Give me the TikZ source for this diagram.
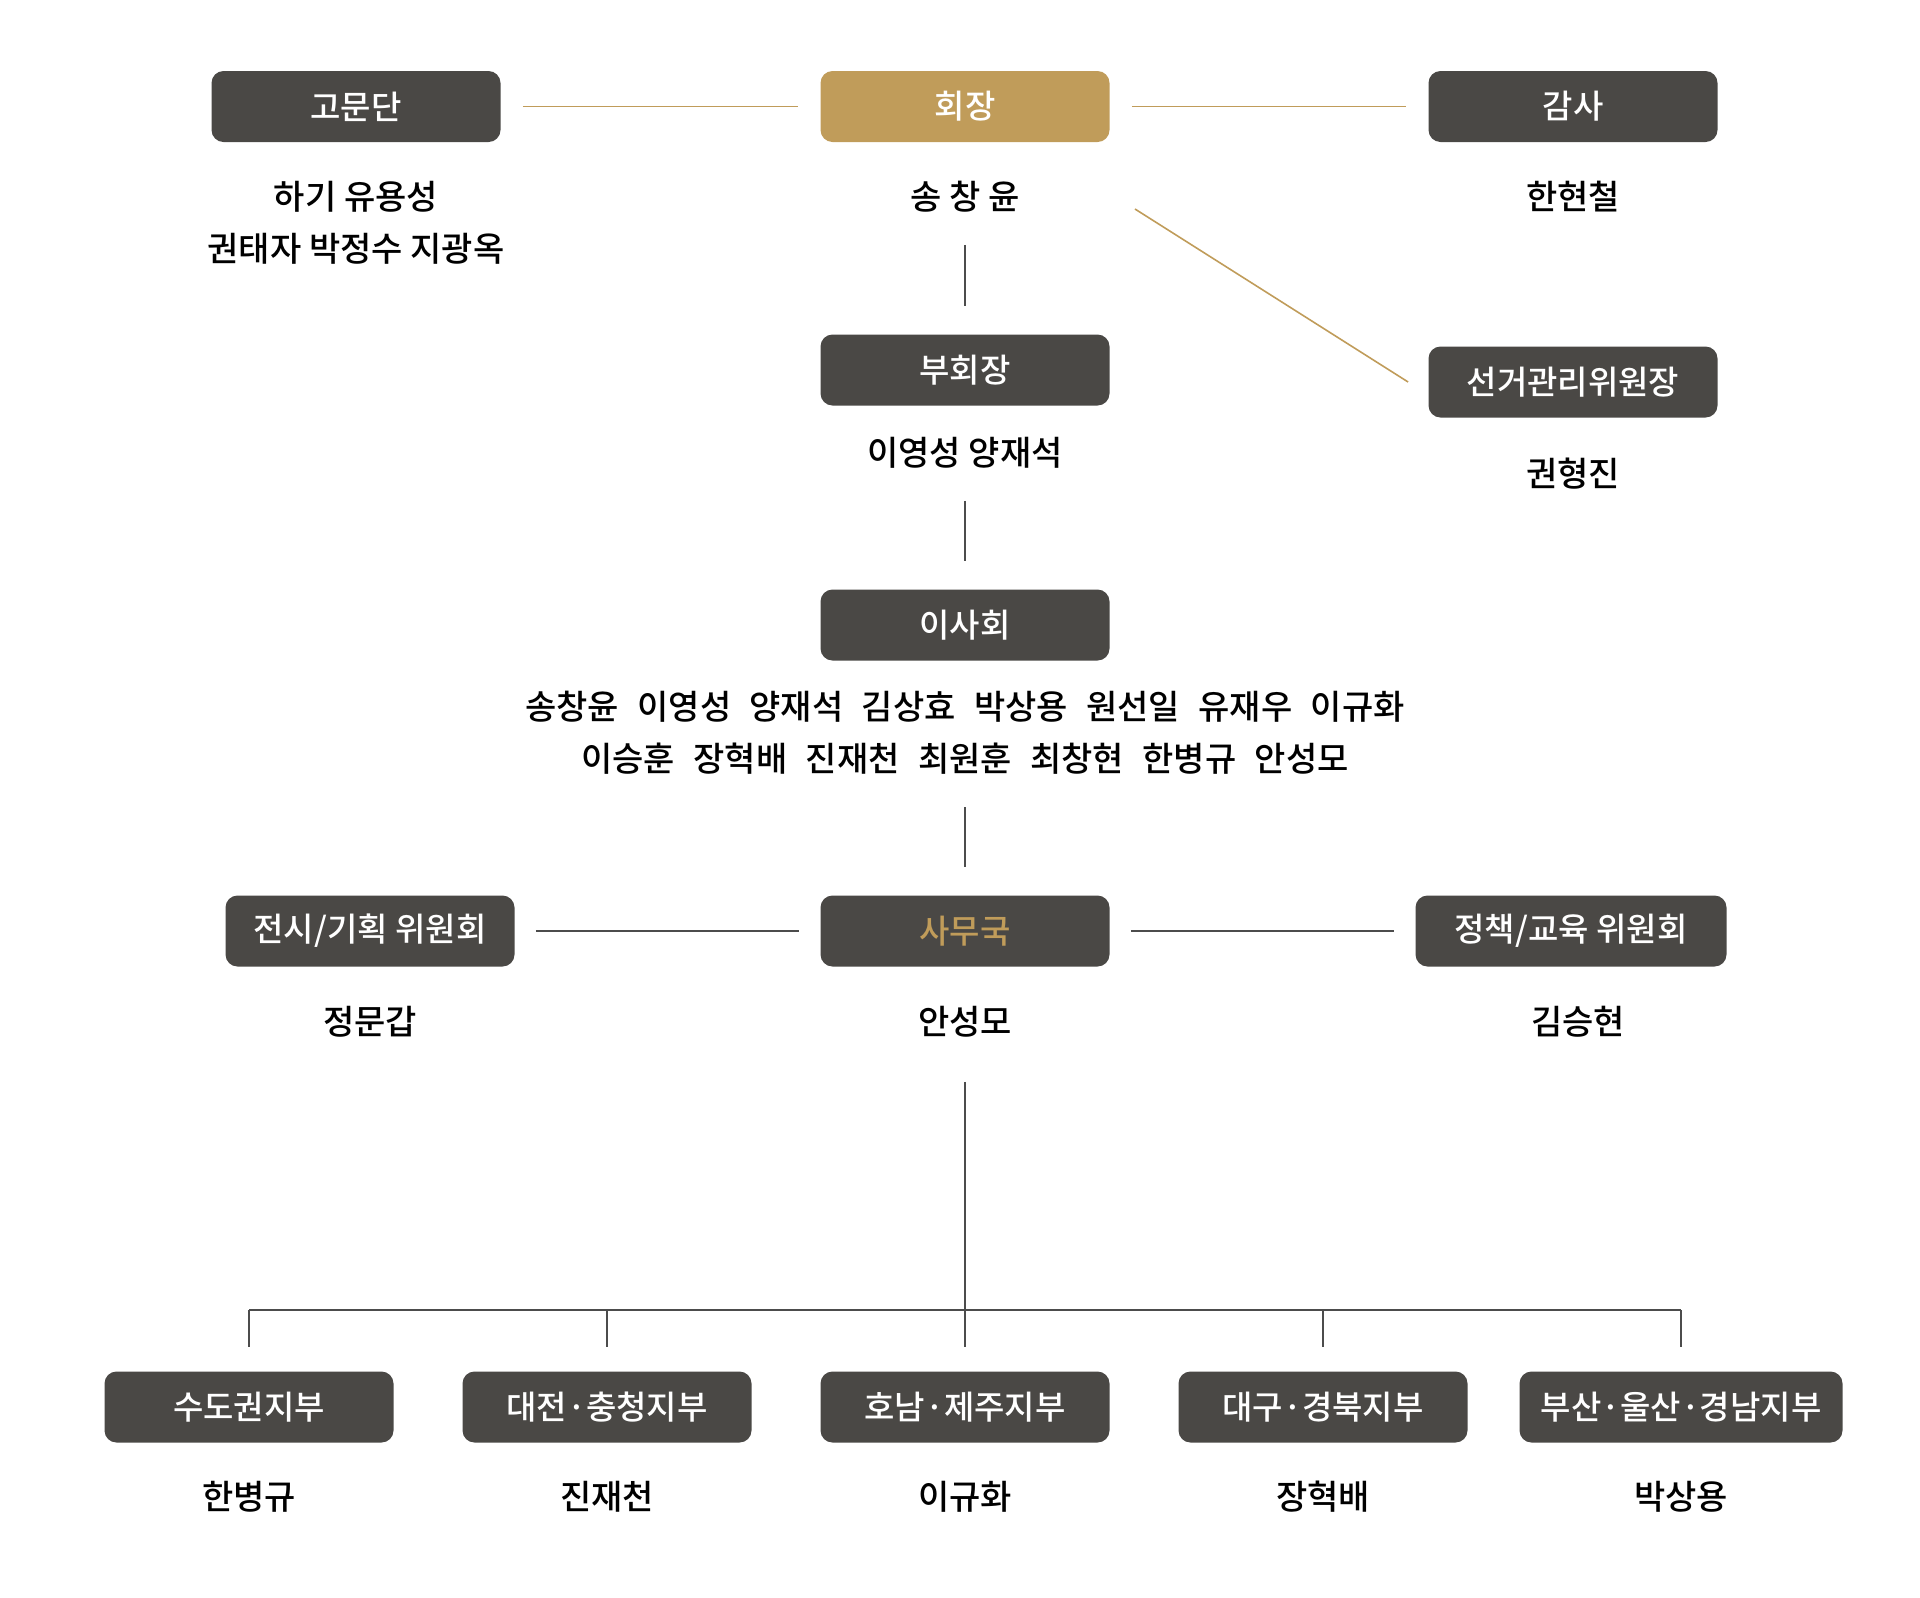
\documentclass[tikz,border=0pt]{standalone}
\usepackage{fontspec}
\setmainfont{Noto Sans CJK KR}[UprightFont=* Medium]
\definecolor{boxgray}{HTML}{4A4845}
\definecolor{gold}{HTML}{C09C5A}
\begin{document}
\begin{tikzpicture}[x=0.5pt,y=-0.5pt]
\tikzset{
  org/.style={fill=boxgray,rounded corners=6pt,minimum width=144.5pt,minimum height=35.5pt,inner sep=0pt,text=white,font=\fontsize{16.5pt}{19pt}\selectfont},
  who/.style={inner sep=0pt,align=center,font=\fontsize{17pt}{26pt}\selectfont},
  goldln/.style={gold,line width=0.8pt},
  grayln/.style={black!70,line width=0.7pt}
}
\newcommand{\gap}{\hspace{9.2pt}}
\useasboundingbox (0,0) rectangle (1920,1597);
% top row
\node[org] (adv) at (356,106.5) {고문단};
\node[org,fill=gold] (chair) at (965,106.5) {회장};
\node[org] (audit) at (1573,106.5) {감사};
\node[who] (advN) at (356,223) {하기 유용성\\권태자 박정수 지광옥};
\node[who] (chairN) at (965,197) {송 창 윤};
\node[who] (auditN) at (1573,197) {한현철};
\draw[goldln,shorten <=11pt,shorten >=11pt] (adv) -- (chair);
\draw[goldln,shorten <=11pt,shorten >=11pt] (chair) -- (audit);
% vice / election
\node[org] (vice) at (965,370) {부회장};
\node[who] (viceN) at (965,453) {이영성 양재석};
\node[org] (elect) at (1573,382) {선거관리위원장};
\node[who] (electN) at (1573,474) {권형진};
\draw[goldln] ([xshift=57.5pt,yshift=-6pt]chairN.east) -- ([xshift=-10pt]elect.west);
\draw[grayln,shorten <=16pt,shorten >=14pt] (chairN) -- (vice);
% board
\node[org] (board) at (965,625) {이사회};
\node[who] (boardN) at (965,733) {송창윤\gap 이영성\gap 양재석\gap 김상효\gap 박상용\gap 원선일\gap 유재우\gap 이규화\\
  이승훈\gap 장혁배\gap 진재천\gap 최원훈\gap 최창현\gap 한병규\gap 안성모};
\draw[grayln,shorten <=16pt,shorten >=14pt] (viceN) -- (board);
% office row
\node[org,text=gold] (office) at (965,931) {사무국};
\node[org] (exhib) at (370,931) {전시/기획 위원회};
\node[org,minimum width=155.5pt] (policy) at (1571,931) {정책/교육 위원회};
\node[who] (officeN) at (965,1022) {안성모};
\node[who] (exhibN) at (370,1022) {정문갑};
\node[who] (policyN) at (1578,1022) {김승현};
\draw[grayln,shorten <=16pt,shorten >=14pt] (boardN) -- (office);
\draw[grayln,shorten <=10.5pt,shorten >=10.5pt] (exhib) -- (office);
\draw[grayln,shorten <=10.5pt,shorten >=10.5pt] (office) -- (policy);
% branches
\node[org] (br1) at (249,1407) {수도권지부};
\node[org] (br2) at (607,1407) {대전·충청지부};
\node[org] (br3) at (965,1407) {호남·제주지부};
\node[org] (br4) at (1323,1407) {대구·경북지부};
\node[org,minimum width=161.5pt] (br5) at (1681,1407) {부산·울산·경남지부};
\foreach \i/\n in {1/한병규,2/진재천,3/이규화,4/장혁배,5/박상용}
  \node[who] (brN\i) at (br\i |- 0,1497) {\n};
\coordinate (bus) at (965,1310);
\draw[grayln,shorten <=22pt,shorten >=12pt] (officeN) -- (br3);
\draw[grayln,line width=1pt] (bus -| br1) -- (bus -| br5);
\foreach \i in {1,2,4,5}
  \draw[grayln] (bus -| br\i) -- ([yshift=12pt]br\i.north);
\end{tikzpicture}
\end{document}
